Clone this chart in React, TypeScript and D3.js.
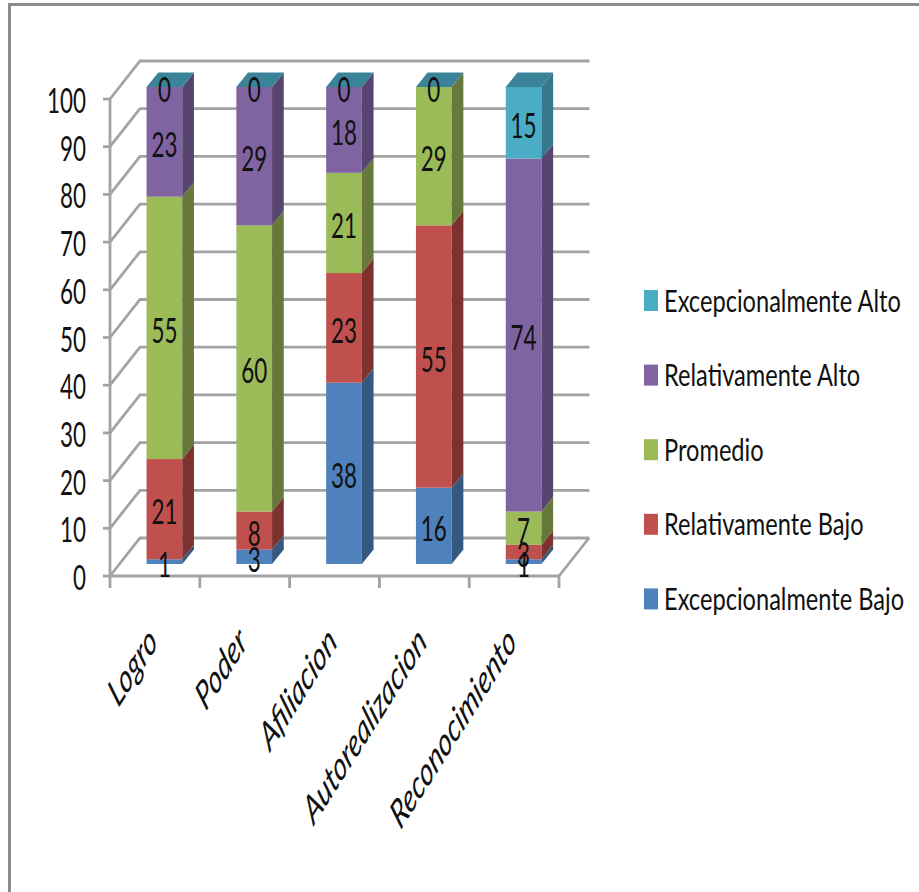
import React from "react";
import * as d3 from "d3";

// Survey results: share of respondents per motivation level.
const categories = ["Logro", "Poder", "Afiliacion", "Autorealizacion", "Reconocimiento"];
const seriesNames = [
  "Excepcionalmente Bajo",
  "Relativamente Bajo",
  "Promedio",
  "Relativamente Alto",
  "Excepcionalmente Alto",
];
const excepBajo = [1, 3, 38, 16, 1];
const relBajo = [21, 8, 23, 55, 3];
const promedio = [55, 60, 21, 29, 7];
const relAlto = [23, 29, 18, 0, 74];
const excepAlto = [0, 0, 0, 0, 15];
const yTicks = [0, 10, 20, 30, 40, 50, 60, 70, 80, 90, 100];

const frontColors = ["#4F81BD", "#C0504D", "#9BBB59", "#8064A2", "#4BACC6"];
const sideColors = ["#34587F", "#7D322F", "#66783A", "#57456F", "#35778B"];
const topColor = "#3A8399";
const gridColor = "#A3A3A3";
const textColor = "#111";
const fontFamily = "Lato, 'Open Sans', sans-serif";

const W = 919;
const H = 892;
const values = [excepBajo, relBajo, promedio, relAlto, excepAlto];
const stacked = d3
  .stack<number>()
  .keys(d3.range(values.length).map(String))
  .value((i, k) => values[+k][i])(d3.range(categories.length));

const y = d3.scaleLinear().domain([0, 100]).range([576, 99]);
const x = d3.scaleBand<string>().domain(categories).range([110, 559]);

// Oblique offsets of the back wall and of the bar depth.
const wallDx = 30;
const wallDy = -38;
const barW = 35.7;
const barDx = 11.7;
const barDy = -14.5;
const barLift = -12;
const barShift = 9.5;

export default function App() {
  const barLeft = (c: string) => x(c)! + (x.bandwidth() - barW) / 2 + barShift;
  return (
    <svg
      width={W}
      height={H}
      viewBox={`0 0 ${W} ${H}`}
      style={{ position: "absolute", left: 0, top: 0, display: "block" }}
    >
      <rect width={W} height={H} fill="#fff" />
      <path d={`M9.5 ${H} V4.5 H${W}`} fill="none" stroke="#8C8C8C" strokeWidth={3} />

      {/* walls and floor */}
      <g stroke={gridColor} strokeWidth={2.8} fill="none">
        {yTicks.map((t) => (
          <path
            key={t}
            d={`M${x.range()[0]} ${y(t)} l${wallDx} ${wallDy} H${x.range()[1] + wallDx + 0.5}`}
          />
        ))}
        <path d={`M${x.range()[1]} ${y(0)} l${wallDx} ${wallDy}`} />
        <path d={`M${x.range()[0]} ${y(100)} V${y(0)} H${x.range()[1]}`} />
        {yTicks.map((t) => (
          <path key={t} d={`M${x.range()[0] - 7} ${y(t)} h7`} />
        ))}
        {[...categories.map((c) => x(c)!), x.range()[1]].map((p) => (
          <path key={p} d={`M${p} ${y(0)} v12`} />
        ))}
      </g>

      {/* value axis labels */}
      {yTicks.map((t) => (
        <text
          key={t}
          transform={`translate(86 ${y(t) + 14}) scale(0.64 1)`}
          textAnchor="end"
          fontFamily={fontFamily}
          fontSize={35}
          fill={textColor}
        >
          {t}
        </text>
      ))}

      {/* stacked bars, bottom series first */}
      {categories.map((c, ci) => {
        const l = barLeft(c);
        const r = l + barW;
        const total = stacked[stacked.length - 1][ci][1];
        return (
          <g key={c}>
            {stacked.map((s, si) => {
              const y0 = y(s[ci][0]) + barLift;
              const y1 = y(s[ci][1]) + barLift;
              if (y0 === y1) return null;
              return (
                <g key={si}>
                  <rect x={l} y={y1} width={barW} height={y0 - y1} fill={frontColors[si]} />
                  <path
                    d={`M${r} ${y0} l${barDx} ${barDy} V${y1 + barDy} L${r} ${y1} Z`}
                    fill={sideColors[si]}
                  />
                </g>
              );
            })}
            <path
              d={`M${l} ${y(total) + barLift} h${barW} l${barDx} ${barDy} h${-barW} Z`}
              fill={topColor}
            />
          </g>
        );
      })}

      {/* value labels; zero shares appear only for the top series */}
      {categories.map((c, ci) =>
        stacked.map((s, si) => {
          const v = values[si][ci];
          if (v === 0 && si !== 4) return null;
          const cy = y((s[ci][0] + s[ci][1]) / 2) + barLift;
          return (
            <text
              key={si}
              transform={`translate(${barLeft(c) + barW / 2} ${cy + 15}) scale(0.64 1)`}
              textAnchor="middle"
              fontFamily={fontFamily}
              fontSize={35}
              fill={textColor}
            >
              {v}
            </text>
          );
        })
      )}

      {/* category labels, slanted and squeezed */}
      {categories.map((c) => (
        <text
          key={c}
          transform={`translate(${x(c)! + x.bandwidth() / 2 + 4} 644) scale(0.63 1) rotate(-45)`}
          textAnchor="end"
          fontFamily={fontFamily}
          fontStyle="italic"
          fontSize={40}
          fill={textColor}
        >
          {c}
        </text>
      ))}

      {/* legend, top entry first */}
      {[...seriesNames].reverse().map((name, i) => {
        const cy = 300.5 + i * 74.6;
        return (
          <g key={name}>
            <rect x={644} y={cy - 10.5} width={14} height={21} fill={frontColors[4 - i]} />
            <text
              transform={`translate(664 ${cy + 11}) scale(0.75 1)`}
              fontFamily={fontFamily}
              fontSize={31.5}
              fill={textColor}
            >
              {name}
            </text>
          </g>
        );
      })}
    </svg>
  );
}
